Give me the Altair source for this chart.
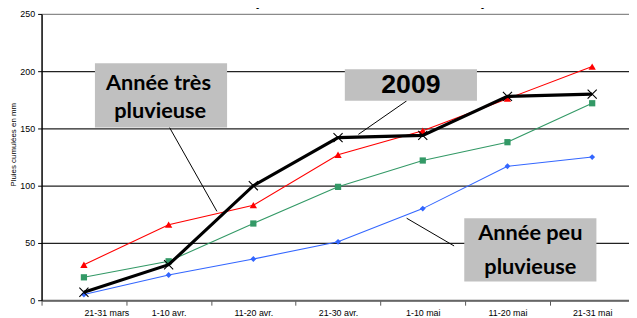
import altair as alt
import pandas as pd

# ---- data ----
categories = ["21-31  mars", "1-10  avr.", "11-20  avr.", "21-30  avr.", "1-10  mai", "11-20  mai", "21-31  mai"]
tres_pluvieuse = [31, 66, 83, 127, 148, 176, 204]
moyenne = [20, 34, 67, 99, 122, 138, 172]
peu_pluvieuse = [5, 22, 36, 51, 80, 117, 125]
annee_2009 = [7, 31, 100, 142, 144, 178, 180]

series_names = ["Année très pluvieuse", "Moyenne", "Année peu pluvieuse", "2009"]
series_values = [tres_pluvieuse, moyenne, peu_pluvieuse, annee_2009]

rows = []
for name, vals in zip(series_names, series_values):
    for i, v in enumerate(vals):
        rows.append({"serie": name, "idx": i + 0.5, "cat": categories[i], "value": v})
df = pd.DataFrame(rows)

# annotation boxes (in data coordinates: category index, mm)
box_x = [0.63, 3.58, 4.99]
box_x2 = [2.19, 5.14, 6.55]
box_y = [206.9, 201.7, 71.6]
box_y2 = [150.9, 174.1, 16.4]
boxes = pd.DataFrame({"x": box_x, "x2": box_x2, "y": box_y, "y2": box_y2})

label_text = ["Année très", "pluvieuse", "Année peu", "pluvieuse"]
label_x = [1.38, 1.40, 5.77, 5.77]
label_y = [189.5, 165.0, 58.5, 29.0]
labels = pd.DataFrame({"t": label_text, "x": label_x, "y": label_y})

year_text = ["2009"]
year_x = [4.36]
year_y = [188.0]
year_label = pd.DataFrame({"t": year_text, "x": year_x, "y": year_y})

lead_x = [1.51, 4.31, 4.87]
lead_y = [150.9, 174.1, 47.4]
lead_x2 = [2.07, 3.74, 4.31]
lead_y2 = [77.6, 144.8, 71.6]
leaders = pd.DataFrame({"x": lead_x, "y": lead_y, "x2": lead_x2, "y2": lead_y2})

STEP = 85.8
WIDTH = 595
HEIGHT = 290
XMAX = WIDTH / STEP

label_expr = "[" + ",".join("'" + c + "'" for c in categories) + ", ''][datum.value]"

xscale = alt.Scale(domain=[0, XMAX], nice=False, zero=False)
yscale = alt.Scale(domain=[0, 250], nice=False)

xaxis = alt.Axis(
    values=list(range(7)), labelExpr=label_expr, labelOffset=STEP / 2,
    labelFontSize=9, labelFont="Liberation Sans", labelColor="black",
    labelPadding=3, tickSize=5, tickColor="#555", domainColor="#666",
    domainWidth=2, grid=False, title=None, labelBound=False, labelOverlap=False,
)
yaxis = alt.Axis(
    values=[0, 50, 100, 150, 200, 250], labelFontSize=9, labelFont="Liberation Sans",
    labelColor="black", labelPadding=3, tickSize=4, tickColor="black",
    domainColor="black", domainWidth=1.5,
    grid=True,
    gridColor={"condition": {"test": "datum.value === 250", "value": "#8a8a8a"}, "value": "#222222"},
    gridWidth=1.2,
    title="Pluies cumulées en mm", titleFontSize=8, titleFont="Liberation Sans",
    titleFontWeight="normal", titleAngle=-90, titleX=-24, titleY=132,
    titleBaseline="bottom", titleAlign="center", titleColor="black",
)

base = alt.Chart(df)

def series_layer(name, color, width, shape, size, filled=True):
    src = base.transform_filter(alt.datum.serie == name)
    line = src.mark_line(color=color, strokeWidth=width).encode(
        x=alt.X("idx:Q", scale=xscale, axis=xaxis),
        y=alt.Y("value:Q", scale=yscale, axis=yaxis),
    )
    if filled:
        pts = src.mark_point(shape=shape, size=size, filled=True, color=color, opacity=1)
    else:
        pts = src.mark_point(shape=shape, size=size, filled=False, color="black",
                             strokeWidth=1.1, opacity=1)
    pts = pts.encode(x="idx:Q", y="value:Q")
    return line + pts

red = series_layer("Année très pluvieuse", "#FF0000", 1.1, "triangle-up", 55)
green = series_layer("Moyenne", "#339966", 1.1, "square", 40)
blue = series_layer("Année peu pluvieuse", "#3366FF", 1.1, "diamond", 35)
black = series_layer("2009", "black", 3.2, "M-1,-1L1,1M-1,1L1,-1", 85, filled=False)

rects = alt.Chart(boxes).mark_rect(color="#C0C0C0").encode(
    x="x:Q", x2="x2:Q", y="y:Q", y2="y2:Q"
)
texts = alt.Chart(labels).mark_text(font="Lato", fontWeight="bold", fontSize=22,
                                    color="black", align="center",
                                    baseline="middle").encode(
    x="x:Q", y="y:Q", text="t:N"
)
year = alt.Chart(year_label).mark_text(font="Liberation Sans", fontWeight="bold",
                                       fontSize=27, color="black", align="center",
                                       baseline="middle").encode(
    x="x:Q", y="y:Q", text="t:N"
)
rules = alt.Chart(leaders).mark_rule(color="black", strokeWidth=1).encode(
    x="x:Q", y="y:Q", x2="x2:Q", y2="y2:Q"
)

chart = alt.layer(red, green, blue, black, rules, rects, texts, year).properties(
    width=WIDTH, height=HEIGHT,
    autosize="none",
    padding={"left": 34, "top": 4, "right": 0, "bottom": 16},
    title=alt.TitleParams(text="2009 (Lanau – données 1980-2008)", fontSize=17,
                          fontWeight="bold", font="Liberation Sans", anchor="middle",
                          offset=0, dx=14, color="black"),
).configure_view(stroke=None)

chart.save("out.html", embed_options={"renderer": "svg", "actions": False})
